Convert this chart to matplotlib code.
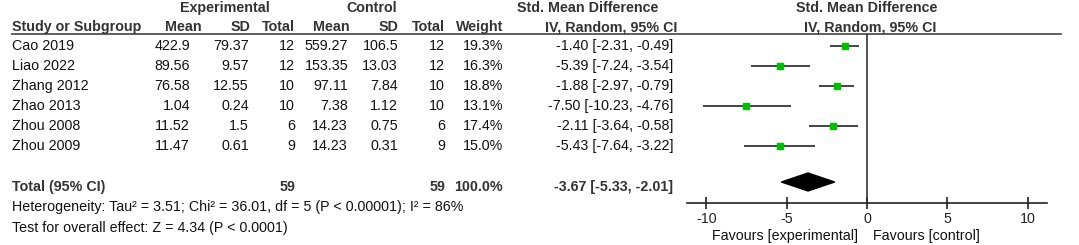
import matplotlib.pyplot as plt
from matplotlib.patches import Polygon

plt.rcParams['font.family'] = ['Liberation Sans', 'DejaVu Sans']

# data
studies = ['Cao 2019', 'Liao 2022', 'Zhang 2012', 'Zhao 2013', 'Zhou 2008', 'Zhou 2009']
exp_mean = ['422.9', '89.56', '76.58', '1.04', '11.52', '11.47']
exp_sd = ['79.37', '9.57', '12.55', '0.24', '1.5', '0.61']
exp_n = [12, 12, 10, 10, 6, 9]
ctl_mean = ['559.27', '153.35', '97.11', '7.38', '14.23', '14.23']
ctl_sd = ['106.5', '13.03', '7.84', '1.12', '0.75', '0.31']
ctl_n = [12, 12, 10, 10, 6, 9]
weight = [19.3, 16.3, 18.8, 13.1, 17.4, 15.0]
smd = [-1.40, -5.39, -1.88, -7.50, -2.11, -5.43]
ci_lo = [-2.31, -7.24, -2.97, -10.23, -3.64, -7.64]
ci_hi = [-0.49, -3.54, -0.79, -4.76, -0.58, -3.22]
pooled = (-3.67, -5.33, -2.01)
ticks = [-10, -5, 0, 5, 10]

W, H = 1079, 245
fig = plt.figure(figsize=(W / 100, H / 100), dpi=100)

# full-figure axes for the table text, pixel coords
tab = fig.add_axes([0, 0, 1, 1])
tab.set_xlim(0, W)
tab.set_ylim(H, 0)
tab.axis('off')

fs = 10.3
bold = dict(fontsize=fs, fontweight='bold', color='#333333', va='center')
norm = dict(fontsize=fs, color='#111111', va='center')

# headers
tab.text(225, 8, 'Experimental', ha='center', **bold)
tab.text(372, 8, 'Control', ha='center', **bold)
tab.text(588, 8, 'Std. Mean Difference', ha='center', **bold)
tab.text(867, 8, 'Std. Mean Difference', ha='center', **bold)
tab.text(12, 27, 'Study or Subgroup', ha='left', **bold)
for x, lab in [(202, 'Mean'), (250, 'SD'), (295, 'Total'), (350, 'Mean'),
               (398, 'SD'), (445, 'Total'), (503, 'Weight'), (677, 'IV, Random, 95% CI')]:
    tab.text(x, 27, lab, ha='right', **bold)
tab.text(870, 27, 'IV, Random, 95% CI', ha='center', **bold)
tab.plot([12, 1061], [34.5, 34.5], color='#444444', lw=1.2)

row_y0, row_dy = 46, 20
for i, s in enumerate(studies):
    y = row_y0 + i * row_dy
    tab.text(12, y, s, ha='left', **norm)
    tab.text(190, y, exp_mean[i], ha='right', **norm)
    tab.text(249, y, exp_sd[i], ha='right', **norm)
    tab.text(295, y, str(exp_n[i]), ha='right', **norm)
    tab.text(348, y, ctl_mean[i], ha='right', **norm)
    tab.text(398, y, ctl_sd[i], ha='right', **norm)
    tab.text(445, y, str(ctl_n[i]), ha='right', **norm)
    tab.text(503, y, f'{weight[i]:.1f}%', ha='right', **norm)
    tab.text(673, y, f'{smd[i]:.2f} [{ci_lo[i]:.2f}, {ci_hi[i]:.2f}]', ha='right', **norm)

yt = 187
tab.text(12, yt, 'Total (95% CI)', ha='left', **bold)
tab.text(295, yt, str(sum(exp_n)), ha='right', **bold)
tab.text(445, yt, str(sum(ctl_n)), ha='right', **bold)
tab.text(503, yt, '100.0%', ha='right', **bold)
tab.text(673, yt, f'{pooled[0]:.2f} [{pooled[1]:.2f}, {pooled[2]:.2f}]', ha='right', **bold)
tab.text(12, 207, 'Heterogeneity: Tau² = 3.51; Chi² = 36.01, df = 5 (P < 0.00001); I² = 86%',
         ha='left', **norm)
tab.text(12, 228, 'Test for overall effect: Z = 4.34 (P < 0.0001)', ha='left', **norm)

# forest axes
x0, x1, ytop, ybot = 687, 1047, 34.5, 202.5
ax = fig.add_axes([x0 / W, 1 - ybot / H, (x1 - x0) / W, (ybot - ytop) / H])
ax.patch.set_alpha(0)
ax.set_xlim(-11.2, 11.2)
ylo = -(row_y0 - ytop) / row_dy
ax.set_ylim(ylo + (ybot - ytop) / row_dy, ylo)
for s in ['top', 'left', 'right']:
    ax.spines[s].set_visible(False)
ax.spines['bottom'].set_color('#222222')
ax.spines['bottom'].set_linewidth(1.2)
ax.set_yticks([])
ax.set_xticks(ticks)
ax.set_xticklabels([str(t) for t in ticks], fontsize=fs, color='#222222')
ax.tick_params(axis='x', direction='inout', length=8, width=1.2, color='#222222', pad=3)
ax.axvline(0, color='#333333', lw=1.2)

rows = list(range(len(studies)))
ax.hlines(rows, ci_lo, ci_hi, color='#111111', lw=1.1)
sizes = [(w / 19.3) ** 0.5 * 4.6 for w in weight]
for r, m, sz in zip(rows, smd, sizes):
    ax.plot(m, r, marker='s', ms=sz, color='#00c000', mec='#00c000', ls='none')

yd = (182 - row_y0) / row_dy
hh = 9 / row_dy
ax.add_patch(Polygon([[pooled[1], yd], [pooled[0], yd - hh], [pooled[2], yd], [pooled[0], yd + hh]],
                     closed=True, color='black'))

tab.text(858, 236, 'Favours [experimental]', ha='right', **norm)
tab.text(873, 236, 'Favours [control]', ha='left', **norm)

fig.savefig('out.png', dpi=100)
